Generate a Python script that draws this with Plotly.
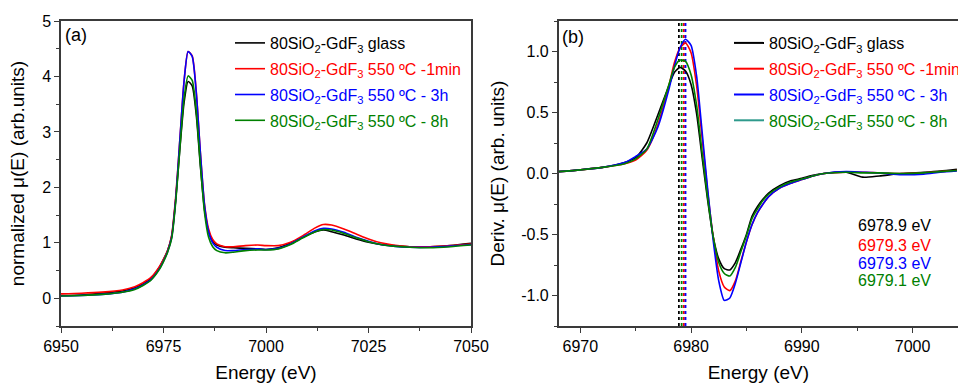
import plotly.graph_objects as go

# ---------------- data ----------------
series_names = [
    "80SiO<sub>2</sub>-GdF<sub>3</sub> glass",
    "80SiO<sub>2</sub>-GdF<sub>3</sub> 550 ºC -1min",
    "80SiO<sub>2</sub>-GdF<sub>3</sub> 550 ºC - 3h",
    "80SiO<sub>2</sub>-GdF<sub>3</sub> 550 ºC - 8h",
]
series_colors = ["#000000", "#FF0000", "#0000FF", "#008000"]
legend_line_colors_b = ["#000000", "#FF0000", "#0000FF", "#2E9A8C"]

# panel (a): normalized mu(E)
energy_a = [6950, 6955, 6960, 6965, 6968, 6970, 6972, 6974, 6975, 6976, 6977, 6978, 6979, 6980,
            6981, 6982, 6983, 6984, 6985, 6986, 6987, 6988, 6990, 6992, 6995, 6998, 7000, 7003,
            7006, 7009, 7012, 7014, 7016, 7019, 7022, 7025, 7028, 7031, 7035, 7040, 7045, 7050]
mu_glass = [0.05, 0.06, 0.09, 0.13, 0.19, 0.26, 0.36, 0.56, 0.70, 0.86, 1.12, 1.80, 2.70, 3.52,
            3.91, 3.83, 3.30, 2.38, 1.60, 1.20, 1.03, 0.96, 0.92, 0.91, 0.90, 0.89, 0.88, 0.91,
            1.00, 1.10, 1.20, 1.23, 1.20, 1.14, 1.07, 1.01, 0.97, 0.95, 0.93, 0.93, 0.95, 0.99]
mu_1min = [0.08, 0.09, 0.11, 0.15, 0.21, 0.28, 0.38, 0.57, 0.70, 0.86, 1.14, 1.85, 2.87, 3.90,
           4.45, 4.37, 3.72, 2.62, 1.70, 1.25, 1.06, 0.98, 0.93, 0.93, 0.95, 0.96, 0.95, 0.95,
           1.01, 1.13, 1.27, 1.33, 1.32, 1.25, 1.16, 1.07, 1.00, 0.96, 0.93, 0.93, 0.95, 0.98]
mu_3h = [0.04, 0.05, 0.07, 0.11, 0.17, 0.24, 0.34, 0.53, 0.67, 0.84, 1.10, 1.80, 2.87, 3.90,
         4.45, 4.36, 3.70, 2.62, 1.68, 1.20, 1.00, 0.92, 0.86, 0.86, 0.88, 0.89, 0.88, 0.90,
         0.98, 1.10, 1.22, 1.26, 1.25, 1.19, 1.10, 1.03, 0.97, 0.94, 0.92, 0.92, 0.94, 0.97]
mu_8h = [0.04, 0.05, 0.07, 0.11, 0.16, 0.23, 0.33, 0.52, 0.66, 0.83, 1.08, 1.75, 2.72, 3.60,
         4.01, 3.93, 3.37, 2.41, 1.55, 1.10, 0.93, 0.86, 0.82, 0.83, 0.86, 0.87, 0.87, 0.89,
         0.97, 1.09, 1.20, 1.24, 1.23, 1.17, 1.09, 1.02, 0.97, 0.94, 0.92, 0.91, 0.93, 0.96]

# panel (b): derivative
energy_b = [6968, 6970, 6972, 6974, 6975, 6976, 6977, 6978, 6978.5, 6979, 6979.5, 6980, 6980.5,
            6981, 6981.5, 6982, 6982.5, 6983, 6983.5, 6984, 6984.5, 6985, 6985.5, 6986, 6986.5,
            6987, 6988, 6989, 6990, 6991, 6992, 6994, 6995.5, 6997, 6999, 7001, 7002.5, 7004]
d_glass = [0.015, 0.03, 0.05, 0.09, 0.13, 0.25, 0.48, 0.72, 0.83, 0.87, 0.84, 0.73, 0.49,
           0.13, -0.22, -0.52, -0.70, -0.78, -0.79, -0.73, -0.62, -0.50, -0.35, -0.27, -0.21,
           -0.16, -0.10, -0.06, -0.04, -0.015, 0.0, 0.01, -0.03, -0.02, 0.0, 0.01, 0.02, 0.035]
d_1min = [0.015, 0.03, 0.05, 0.08, 0.11, 0.19, 0.40, 0.72, 0.91, 1.03, 1.07, 0.99, 0.72,
          0.29, -0.15, -0.52, -0.80, -0.93, -0.96, -0.88, -0.72, -0.56, -0.42, -0.32, -0.25,
          -0.19, -0.12, -0.08, -0.05, -0.02, 0.0, 0.01, 0.01, 0.005, 0.0, 0.005, 0.015, 0.025]
d_3h = [0.015, 0.03, 0.05, 0.09, 0.14, 0.20, 0.38, 0.69, 0.88, 1.03, 1.10, 1.05, 0.80,
        0.34, -0.13, -0.55, -0.88, -1.04, -1.02, -0.90, -0.73, -0.56, -0.42, -0.32, -0.25,
        -0.19, -0.12, -0.08, -0.05, -0.02, 0.0, 0.015, 0.01, 0.005, -0.01, -0.005, 0.01, 0.02]
d_8h = [0.015, 0.03, 0.05, 0.08, 0.12, 0.20, 0.44, 0.73, 0.87, 0.93, 0.92, 0.81, 0.56,
        0.17, -0.20, -0.52, -0.73, -0.82, -0.84, -0.77, -0.64, -0.51, -0.37, -0.29, -0.22,
        -0.17, -0.11, -0.07, -0.045, -0.02, 0.0, 0.01, 0.005, 0.005, 0.0, 0.005, 0.015, 0.025]

# edge energies: printed labels and positions of the dotted markers as drawn
edge_labels = [6978.9, 6979.3, 6979.3, 6979.1]
edge_line_positions = [6978.9, 6979.35, 6979.5, 6979.15]

mu_series = [mu_glass, mu_1min, mu_3h, mu_8h]
d_series = [d_glass, d_1min, d_3h, d_8h]

FONT = "Liberation Sans, Arial, sans-serif"
AXC = "#3a3a3a"

fig = go.Figure()

def colored(name, c):
    return f'<span style="color:{c}">{name}</span>'

# panel (a)
for i in range(4):
    fig.add_trace(go.Scatter(
        x=energy_a, y=mu_series[i], mode="lines",
        line=dict(color=series_colors[i], width=1.6, shape="spline", smoothing=0.6),
        name=colored(series_names[i], series_colors[i]),
        legend="legend", legendgroup=f"a{i}",
        xaxis="x", yaxis="y"))

# vertical edge-position lines in (b)
for i in [0, 3, 1, 2]:
    fig.add_trace(go.Scatter(
        x=[edge_line_positions[i], edge_line_positions[i]], y=[-1.25, 1.25], mode="lines",
        line=dict(color=series_colors[i], width=1.8, dash="dot"),
        showlegend=False, xaxis="x2", yaxis="y2", hoverinfo="skip"))

# panel (b)
for i in range(4):
    fig.add_trace(go.Scatter(
        x=energy_b, y=d_series[i], mode="lines",
        line=dict(color=series_colors[i], width=1.6, shape="spline", smoothing=0.6),
        showlegend=False, xaxis="x2", yaxis="y2"))
# legend entries for (b)
for i in range(4):
    fig.add_trace(go.Scatter(
        x=[None], y=[None], mode="lines",
        line=dict(color=legend_line_colors_b[i], width=2),
        name=colored(series_names[i], series_colors[i]),
        legend="legend2", legendgroup=f"b{i}",
        xaxis="x2", yaxis="y2"))

ydom = [1 - 326 / 383, 1 - 21 / 383]

common_axis = dict(showgrid=False, zeroline=False, showline=True, linewidth=1.5,
                   linecolor=AXC, ticks="outside", ticklen=5, tickwidth=1.2, tickcolor=AXC,
                   automargin=False,
                   tickfont=dict(family=FONT, size=16, color="black"))

fig.update_layout(
    width=958, height=383,
    margin=dict(l=0, r=0, t=0, b=0, autoexpand=False),
    paper_bgcolor="white", plot_bgcolor="white",
    font=dict(family=FONT, size=16, color="black"),
    xaxis=dict(domain=[61 / 958, 471 / 958], range=[6950, 7050], tick0=6950, dtick=25,
               mirror=True, anchor="y",
               minor=dict(ticks="outside", ticklen=3, dtick=12.5, tickcolor=AXC),
               title=dict(text="Energy (eV)", font=dict(family=FONT, size=19), standoff=14),
               **common_axis),
    yaxis=dict(domain=ydom, range=[-0.5, 5], tick0=0, dtick=1, mirror=True, anchor="x",
               minor=dict(ticks="outside", ticklen=3, dtick=0.5, tickcolor=AXC),
               title=dict(text="normalized μ(E) (arb.units)", font=dict(family=FONT, size=19), standoff=12),
               **common_axis),
    xaxis2=dict(domain=[558.7 / 958, 1.0], range=[6968.05, 7004.1], tick0=6970, dtick=10,
                mirror=True, anchor="y2",
                minor=dict(ticks="outside", ticklen=3, dtick=5, tickcolor=AXC),
                title=dict(text="Energy (eV)", font=dict(family=FONT, size=19), standoff=14),
                **common_axis),
    yaxis2=dict(domain=ydom, range=[-1.25, 1.25], tickmode="array",
                tickvals=[-1.0, -0.5, 0.0, 0.5, 1.0],
                ticktext=[f"{v:.1f}" for v in [-1.0, -0.5, 0.0, 0.5, 1.0]],
                mirror=False, anchor="x2",
                minor=dict(ticks="outside", ticklen=3, tickvals=[-1.25, -0.75, -0.25, 0.25, 0.75, 1.25], tickcolor=AXC),
                title=dict(text="Deriv. μ(E) (arb. units)", font=dict(family=FONT, size=19), standoff=12),
                **common_axis),
    legend=dict(x=230 / 958, y=1 - 26 / 383, xanchor="left", yanchor="top",
                bgcolor="rgba(0,0,0,0)", borderwidth=0, tracegroupgap=2,
                font=dict(family=FONT, size=16)),
    legend2=dict(x=729 / 958, y=1 - 26 / 383, xanchor="left", yanchor="top",
                 bgcolor="rgba(0,0,0,0)", borderwidth=0, tracegroupgap=2,
                 font=dict(family=FONT, size=16)),
    showlegend=True,
)

annos = [
    dict(text="(a)", x=63 / 958, y=1 - 35 / 383, xref="paper", yref="paper",
         xanchor="left", yanchor="middle", showarrow=False, font=dict(family=FONT, size=18)),
    dict(text="(b)", x=560 / 958, y=1 - 37 / 383, xref="paper", yref="paper",
         xanchor="left", yanchor="middle", showarrow=False, font=dict(family=FONT, size=18)),
]
row_y = [226, 245, 263, 280]
for i in range(4):
    annos.append(dict(text=f"{edge_labels[i]} eV", x=856 / 958, y=1 - row_y[i] / 383,
                      xref="paper", yref="paper", xanchor="left", yanchor="middle",
                      showarrow=False, font=dict(family=FONT, size=16, color=series_colors[i])))
fig.update_layout(annotations=annos)

fig.write_html("out.html")
